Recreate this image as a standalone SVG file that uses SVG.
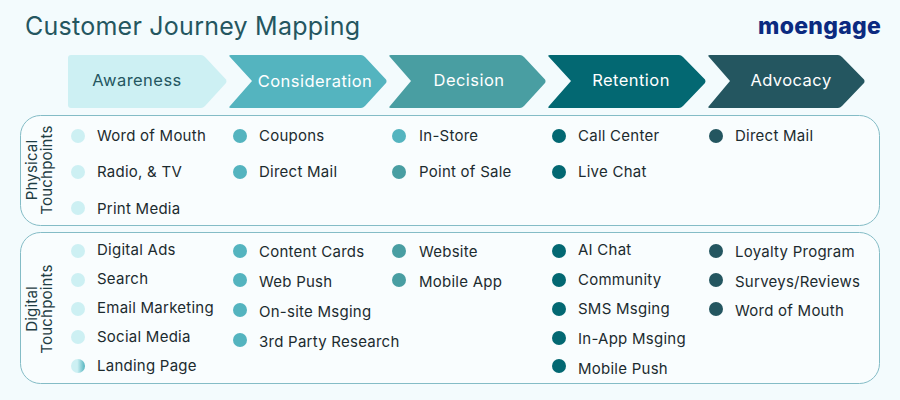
<svg xmlns="http://www.w3.org/2000/svg" width="900" height="400" viewBox="0 0 900 400">
<style>
text{font-family:Inter,"Open Sans","Liberation Sans",sans-serif}
.t{font-size:15px;fill:#1c2b2f;letter-spacing:.25px}
.h{font-size:16.500px;text-anchor:middle;fill:#fff;letter-spacing:.45px}
.p{fill:#f9fdfe;stroke:#84bcc6;stroke-width:1}
.s{font-size:15px;fill:#1f3d44;text-anchor:middle;letter-spacing:.2px}
.c1{fill:#cdf0f3}.c2{fill:#54b4bf}.c3{fill:#499ea2}.c4{fill:#036872}.c5{fill:#245660}
</style>
<defs><linearGradient id="g"><stop offset="0" stop-color="#cdf0f3"/><stop offset=".45" stop-color="#cdf0f3"/><stop offset="1" stop-color="#54b4bf"/></linearGradient></defs>
<rect width="900" height="400" fill="#f3fbfd"/>
<text x="25" y="35" font-size="25" fill="#245660" letter-spacing=".25">Customer Journey Mapping</text>
<text id="logo" x="758" y="34" font-size="23" font-weight="800" fill="#0b2a80" letter-spacing=".3">moengage</text>
<g id="connectors"></g>
<g id="stage-awareness"><path class="c1" d="M71 55H201Q203 55 205 57L226 79.500Q227 81 226 83L205 106Q203 108 201 108H71Q68 108 68 105V58Q68 55 71 55Z"/><text class="h" x="137" y="86" style="fill:#245660">Awareness</text></g>
<g id="stage-consideration"><path class="c2" d="M231 55H361Q363 55 365 57L386 79.500Q387 81 386 83L365 106Q363 108 361 108H231Q228 108 230 106L252 81L230 57Q228 55 231 55Z"/><text class="h" x="315" y="87">Consideration</text></g>
<g id="stage-decision"><path class="c3" d="M391 55H520Q522 55 524 57L545 79.500Q546 81 545 83L524 106Q522 108 520 108H391Q388 108 390 106L411 81L390 57Q388 55 391 55Z"/><text class="h" x="469" y="86">Decision</text></g>
<g id="stage-retention"><path class="c4" d="M550 55H679Q681 55 683 57L705 79.500Q706 81 705 83L683 106Q681 108 679 108H550Q547 108 549 106L571 81L549 57Q547 55 550 55Z"/><text class="h" x="631" y="86">Retention</text></g>
<g id="stage-advocacy"><path class="c5" d="M710 55H838Q840 55 842 57L864 79.500Q865 81 864 83L842 106Q840 108 838 108H710Q707 108 709 106L730 81L709 57Q707 55 710 55Z"/><text class="h" x="791" y="86">Advocacy</text></g>

<g id="physical-touchpoints"><rect class="p" x="20.500" y="115.500" width="859" height="110" rx="20"/>
<text class="s" transform="translate(37 170) rotate(-90)">Physical</text><text class="s" transform="translate(52 170) rotate(-90)">Touchpoints</text>
<circle class="c1" cx="78" cy="136" r="7"/><text class="t" x="97" y="141">Word of Mouth</text>
<circle class="c1" cx="78" cy="172" r="7"/><text class="t" x="97" y="177">Radio, &amp; TV</text>
<circle class="c1" cx="78" cy="208" r="7"/><text class="t" x="97" y="214">Print Media</text>
<circle class="c2" cx="240" cy="136" r="7"/><text class="t" x="259" y="141">Coupons</text>
<circle class="c2" cx="240" cy="172" r="7"/><text class="t" x="259" y="177">Direct Mail</text>
<circle class="c2" cx="399" cy="136" r="7"/><text class="t" x="419" y="141">In-Store</text>
<circle class="c3" cx="399" cy="172" r="7"/><text class="t" x="419" y="177">Point of Sale</text>
<circle class="c4" cx="559" cy="136" r="7"/><text class="t" x="578" y="141">Call Center</text>
<circle class="c4" cx="559" cy="172" r="7"/><text class="t" x="578" y="177">Live Chat</text>
<circle class="c5" cx="716" cy="136" r="7"/><text class="t" x="735" y="141">Direct Mail</text>
</g>

<g id="digital-touchpoints"><rect class="p" x="20.500" y="232.500" width="859" height="151" rx="20"/>
<text class="s" transform="translate(37 309) rotate(-90)">Digital</text><text class="s" transform="translate(52 309) rotate(-90)">Touchpoints</text>
<circle class="c1" cx="78" cy="251" r="7"/><text class="t" x="97" y="255">Digital Ads</text>
<circle class="c1" cx="78" cy="280" r="7"/><text class="t" x="97" y="284">Search</text>
<circle class="c1" cx="78" cy="309" r="7"/><text class="t" x="97" y="313">Email Marketing</text>
<circle class="c1" cx="78" cy="337" r="7"/><text class="t" x="97" y="342">Social Media</text>
<circle fill="url(#g)" cx="78" cy="366" r="7"/><text class="t" x="97" y="371">Landing Page</text>
<circle class="c2" cx="240" cy="251" r="7"/><text class="t" x="259" y="257">Content Cards</text>
<circle class="c2" cx="240" cy="280" r="7"/><text class="t" x="259" y="287">Web Push</text>
<circle class="c2" cx="240" cy="310" r="7"/><text class="t" x="259" y="317">On-site Msging</text>
<circle class="c2" cx="240" cy="340" r="7"/><text class="t" x="259" y="347">3rd Party Research</text>
<circle class="c3" cx="399" cy="251" r="7"/><text class="t" x="419" y="257">Website</text>
<circle class="c3" cx="399" cy="280" r="7"/><text class="t" x="419" y="287">Mobile App</text>
<circle class="c4" cx="559" cy="251" r="7"/><text class="t" x="578" y="255">AI Chat</text>
<circle class="c4" cx="559" cy="280" r="7"/><text class="t" x="578" y="285">Community</text>
<circle class="c4" cx="559" cy="309" r="7"/><text class="t" x="578" y="314">SMS Msging</text>
<circle class="c4" cx="559" cy="338" r="7"/><text class="t" x="578" y="344">In-App Msging</text>
<circle class="c4" cx="559" cy="366" r="7"/><text class="t" x="578" y="374">Mobile Push</text>
<circle class="c5" cx="716" cy="251" r="7"/><text class="t" x="735" y="257">Loyalty Program</text>
<circle class="c5" cx="716" cy="280" r="7"/><text class="t" x="735" y="287">Surveys/Reviews</text>
<circle class="c5" cx="716" cy="309" r="7"/><text class="t" x="735" y="316">Word of Mouth</text>
</g>
</svg>
